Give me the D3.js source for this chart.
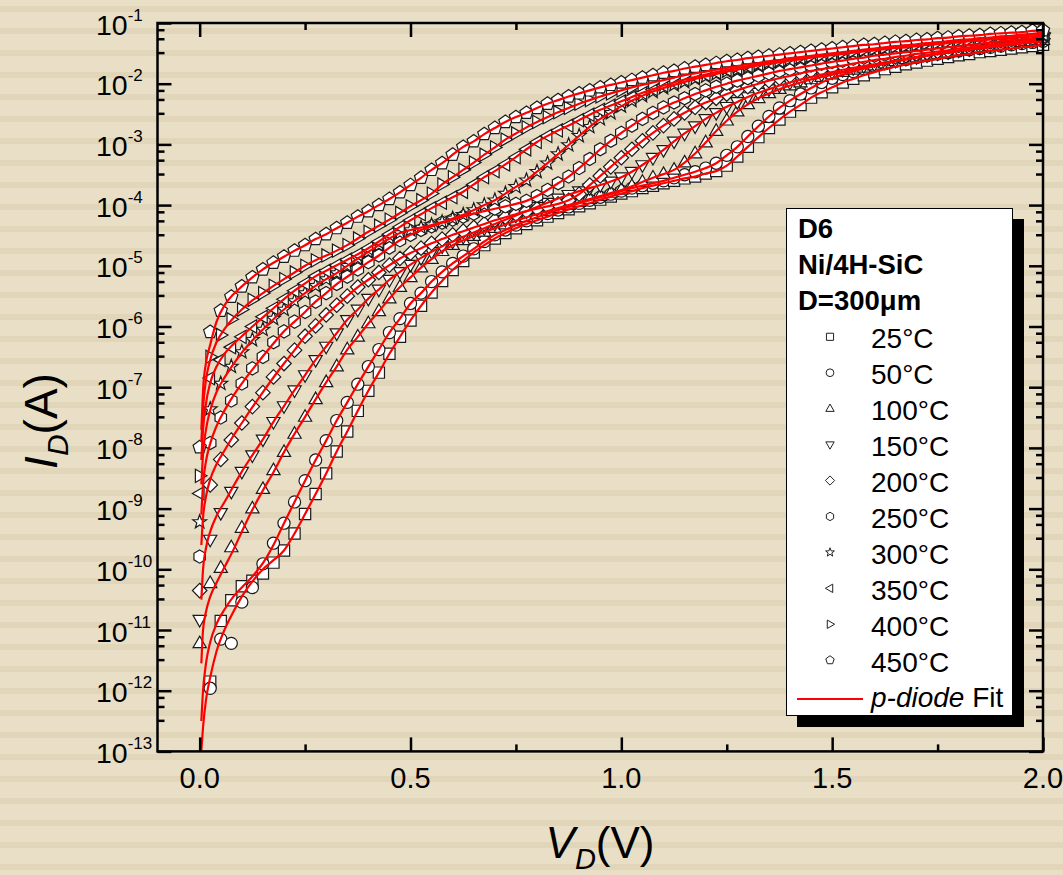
<!DOCTYPE html>
<html>
<head>
<meta charset="utf-8">
<script src="https://cdn.jsdelivr.net/npm/d3@7"></script>
<style>
  body { margin: 0; background: #e9dfc7; }
  svg { display: block; font-family: "Liberation Sans", Arial, sans-serif; }
</style>
</head>
<body>
<svg id="chart" width="1063" height="875"></svg>
<script>
// Forward I-V characteristics of a Ni/4H-SiC Schottky diode (D6, D = 300 um)
// measured from 25 to 450 degC. Currents are stored as log10(I / A).

const voltage = [
  0, 0.025, 0.05, 0.075, 0.1, 0.125, 0.15, 0.175, 0.2, 0.225,
  0.25, 0.275, 0.3, 0.325, 0.35, 0.375, 0.4, 0.425, 0.45, 0.475,
  0.5, 0.525, 0.55, 0.575, 0.6, 0.625, 0.65, 0.675, 0.7, 0.725,
  0.75, 0.775, 0.8, 0.825, 0.85, 0.875, 0.9, 0.925, 0.95, 0.975,
  1.0, 1.025, 1.05, 1.075, 1.1, 1.125, 1.15, 1.175, 1.2, 1.225,
  1.25, 1.275, 1.3, 1.325, 1.35, 1.375, 1.4, 1.425, 1.45, 1.475,
  1.5, 1.525, 1.55, 1.575, 1.6, 1.625, 1.65, 1.675, 1.7, 1.725,
  1.75, 1.775, 1.8, 1.825, 1.85, 1.875, 1.9, 1.925, 1.95, 1.975,
  2.0
];

const temperatures = ["25°C", "50°C", "100°C", "150°C", "200°C", "250°C", "300°C", "350°C", "400°C", "450°C"];
const markerShapes = ["square", "circle", "up", "down", "diamond", "hexagon", "star", "left", "right", "pentagon"];

const logI25 = [
  null, -11.85, -10.85, -10.51, -10.28, -10.19, -10.07, -9.89, -9.69, -9.41,
  -9.09, -8.76, -8.42, -8.06, -7.73, -7.39, -7.06, -6.76, -6.45, -6.17,
  -5.90, -5.66, -5.44, -5.25, -5.07, -4.92, -4.78, -4.66, -4.55, -4.46,
  -4.38, -4.31, -4.25, -4.19, -4.13, -4.07, -4.02, -3.97, -3.91, -3.86,
  -3.81, -3.77, -3.72, -3.68, -3.64, -3.60, -3.56, -3.53, -3.48, -3.44,
  -3.35, -3.20, -3.04, -2.88, -2.73, -2.59, -2.46, -2.35, -2.23, -2.14,
  -2.06, -1.98, -1.92, -1.86, -1.81, -1.76, -1.72, -1.68, -1.65, -1.62,
  -1.59, -1.56, -1.53, -1.51, -1.48, -1.46, -1.44, -1.42, -1.40, -1.38,
  -1.36
];
const logI50 = [
  null, -11.96, -11.15, -11.22, -10.54, -10.30, -9.91, -9.57, -9.24, -8.89,
  -8.54, -8.20, -7.88, -7.55, -7.25, -6.95, -6.66, -6.38, -6.10, -5.87,
  -5.62, -5.45, -5.26, -5.10, -4.96, -4.84, -4.72, -4.60, -4.49, -4.41,
  -4.33, -4.26, -4.20, -4.14, -4.08, -4.03, -3.97, -3.92, -3.87, -3.82,
  -3.77, -3.72, -3.68, -3.64, -3.60, -3.55, -3.50, -3.45, -3.39, -3.31,
  -3.18, -3.04, -2.87, -2.70, -2.54, -2.40, -2.28, -2.17, -2.07, -1.98,
  -1.91, -1.85, -1.80, -1.75, -1.71, -1.67, -1.63, -1.60, -1.57, -1.54,
  -1.51, -1.49, -1.46, -1.44, -1.42, -1.40, -1.38, -1.36, -1.34, -1.32,
  -1.30
];
const logI100 = [
  -11.22, -10.23, -9.98, -9.64, -9.32, -9.00, -8.68, -8.37, -8.07, -7.77,
  -7.49, -7.20, -6.92, -6.66, -6.38, -6.17, -5.95, -5.75, -5.54, -5.35,
  -5.19, -5.03, -4.89, -4.76, -4.66, -4.58, -4.51, -4.44, -4.38, -4.32,
  -4.26, -4.20, -4.15, -4.10, -4.05, -4.00, -3.95, -3.90, -3.85, -3.80,
  -3.75, -3.69, -3.62, -3.55, -3.49, -3.42, -3.30, -3.15, -2.97, -2.78,
  -2.61, -2.46, -2.34, -2.24, -2.16, -2.09, -2.03, -1.98, -1.93, -1.89,
  -1.85, -1.81, -1.77, -1.74, -1.70, -1.67, -1.63, -1.60, -1.57, -1.54,
  -1.51, -1.49, -1.46, -1.43, -1.41, -1.38, -1.36, -1.34, -1.32, -1.30,
  -1.28
];
const logI150 = [
  -10.83, -9.51, -9.07, -8.72, -8.39, -8.12, -7.86, -7.57, -7.31, -7.05,
  -6.80, -6.55, -6.33, -6.11, -5.89, -5.72, -5.54, -5.39, -5.23, -5.10,
  -4.98, -4.87, -4.77, -4.68, -4.60, -4.52, -4.45, -4.38, -4.31, -4.24,
  -4.17, -4.10, -4.03, -3.96, -3.89, -3.83, -3.77, -3.72, -3.67, -3.61,
  -3.54, -3.45, -3.34, -3.22, -3.09, -2.95, -2.82, -2.70, -2.58, -2.48,
  -2.38, -2.30, -2.22, -2.15, -2.09, -2.03, -1.98, -1.93, -1.89, -1.85,
  -1.81, -1.77, -1.74, -1.71, -1.68, -1.65, -1.62, -1.59, -1.56, -1.53,
  -1.50, -1.48, -1.45, -1.43, -1.40, -1.38, -1.36, -1.33, -1.31, -1.29,
  -1.27
];
const logI200 = [
  -10.35, -8.61, -8.19, -7.87, -7.59, -7.32, -7.09, -6.83, -6.61, -6.39,
  -6.16, -5.99, -5.81, -5.65, -5.50, -5.35, -5.23, -5.11, -4.99, -4.88,
  -4.79, -4.71, -4.63, -4.56, -4.49, -4.43, -4.37, -4.31, -4.25, -4.20,
  -4.15, -4.10, -4.06, -4.02, -3.98, -3.92, -3.82, -3.67, -3.52, -3.37,
  -3.22, -3.08, -2.94, -2.81, -2.69, -2.58, -2.48, -2.39, -2.31, -2.24,
  -2.17, -2.11, -2.05, -2.00, -1.95, -1.91, -1.87, -1.83, -1.79, -1.76,
  -1.73, -1.70, -1.67, -1.64, -1.61, -1.59, -1.56, -1.54, -1.51, -1.49,
  -1.47, -1.45, -1.42, -1.40, -1.38, -1.36, -1.34, -1.32, -1.30, -1.28,
  -1.26
];
const logI250 = [
  -9.79, -7.92, -7.50, -7.22, -6.94, -6.69, -6.50, -6.26, -6.08, -5.92,
  -5.76, -5.59, -5.45, -5.30, -5.18, -5.06, -4.94, -4.83, -4.70, -4.58,
  -4.49, -4.41, -4.35, -4.29, -4.24, -4.19, -4.14, -4.10, -4.06, -4.02,
  -3.98, -3.93, -3.85, -3.75, -3.64, -3.53, -3.39, -3.24, -3.08, -2.94,
  -2.81, -2.69, -2.58, -2.48, -2.39, -2.31, -2.24, -2.17, -2.11, -2.05,
  -2.00, -1.95, -1.91, -1.87, -1.83, -1.79, -1.76, -1.73, -1.70, -1.67,
  -1.64, -1.62, -1.59, -1.57, -1.54, -1.52, -1.50, -1.48, -1.46, -1.44,
  -1.42, -1.40, -1.38, -1.36, -1.34, -1.32, -1.30, -1.28, -1.27, -1.25,
  -1.23
];
const logI300 = [
  -9.22, -7.36, -6.94, -6.66, -6.42, -6.22, -6.05, -5.87, -5.72, -5.58,
  -5.45, -5.33, -5.22, -5.12, -5.00, -4.88, -4.77, -4.66, -4.55, -4.46,
  -4.41, -4.37, -4.33, -4.28, -4.22, -4.16, -4.08, -4.00, -3.92, -3.81,
  -3.70, -3.59, -3.45, -3.31, -3.16, -3.01, -2.86, -2.71, -2.58, -2.48,
  -2.37, -2.28, -2.20, -2.13, -2.07, -2.02, -1.97, -1.92, -1.88, -1.84,
  -1.80, -1.77, -1.73, -1.70, -1.67, -1.65, -1.62, -1.60, -1.57, -1.55,
  -1.53, -1.51, -1.49, -1.47, -1.45, -1.43, -1.41, -1.40, -1.38, -1.36,
  -1.35, -1.33, -1.32, -1.30, -1.29, -1.27, -1.26, -1.25, -1.23, -1.22,
  -1.21
];
const logI350 = [
  -8.75, -6.85, -6.55, -6.34, -6.17, -6.00, -5.84, -5.70, -5.55, -5.41,
  -5.29, -5.17, -5.08, -4.99, -4.90, -4.81, -4.71, -4.60, -4.48, -4.36,
  -4.25, -4.15, -4.05, -3.96, -3.87, -3.78, -3.66, -3.54, -3.44, -3.33,
  -3.21, -3.08, -2.96, -2.86, -2.77, -2.69, -2.60, -2.51, -2.43, -2.36,
  -2.29, -2.22, -2.15, -2.09, -2.03, -1.98, -1.93, -1.89, -1.85, -1.81,
  -1.77, -1.74, -1.71, -1.68, -1.65, -1.62, -1.60, -1.57, -1.55, -1.53,
  -1.51, -1.49, -1.47, -1.45, -1.43, -1.41, -1.39, -1.37, -1.36, -1.34,
  -1.32, -1.31, -1.29, -1.28, -1.26, -1.25, -1.23, -1.22, -1.20, -1.19,
  -1.18
];
const logI400 = [
  -8.46, -6.50, -6.14, -5.88, -5.72, -5.56, -5.45, -5.33, -5.22, -5.11,
  -5.00, -4.91, -4.83, -4.75, -4.66, -4.55, -4.44, -4.34, -4.24, -4.13,
  -4.02, -3.92, -3.81, -3.66, -3.54, -3.42, -3.30, -3.17, -3.05, -2.92,
  -2.82, -2.72, -2.63, -2.55, -2.47, -2.40, -2.33, -2.27, -2.21, -2.16,
  -2.11, -2.06, -2.02, -1.98, -1.94, -1.90, -1.86, -1.83, -1.80, -1.77,
  -1.74, -1.71, -1.68, -1.66, -1.63, -1.61, -1.58, -1.56, -1.54, -1.52,
  -1.50, -1.48, -1.46, -1.44, -1.42, -1.40, -1.38, -1.37, -1.35, -1.33,
  -1.32, -1.30, -1.28, -1.27, -1.25, -1.24, -1.22, -1.21, -1.19, -1.18,
  -1.16
];
const logI450 = [
  -7.99, -6.09, -5.74, -5.51, -5.34, -5.19, -5.06, -4.95, -4.85, -4.75,
  -4.66, -4.56, -4.48, -4.38, -4.29, -4.19, -4.10, -4.00, -3.90, -3.79,
  -3.67, -3.55, -3.42, -3.31, -3.17, -3.04, -2.95, -2.83, -2.73, -2.63,
  -2.55, -2.48, -2.40, -2.33, -2.27, -2.21, -2.16, -2.11, -2.06, -2.02,
  -1.98, -1.94, -1.90, -1.86, -1.82, -1.79, -1.75, -1.72, -1.69, -1.66,
  -1.63, -1.61, -1.58, -1.56, -1.54, -1.52, -1.50, -1.48, -1.46, -1.44,
  -1.42, -1.40, -1.38, -1.36, -1.35, -1.33, -1.31, -1.30, -1.28, -1.27,
  -1.25, -1.24, -1.22, -1.21, -1.20, -1.18, -1.17, -1.16, -1.15, -1.13,
  -1.12
];

// p-diode fit: low-bias branch (log10 I at fitVoltage); above 0.2 V the fit
// follows the measured points.
const fitVoltage = [0.004, 0.008, 0.015, 0.025, 0.04, 0.06, 0.08, 0.1, 0.125, 0.15, 0.175];
const fitLow25  = [-12.98, -12.60, -12.15, -11.78, -11.35, -10.98, -10.70, -10.45, -10.20, -10.00, -9.85];
const fitLow50  = [-12.50, -12.00, -11.55, -11.20, -10.90, -10.65, -10.45, -10.30, -10.12, -9.90, -9.60];
const fitLow100 = [-11.55, -11.00, -10.70, -10.45, -10.22, -9.95, -9.68, -9.38, -9.02, -8.70, -8.40];
const fitLow150 = [-10.50, -10.00, -9.65, -9.38, -9.12, -8.88, -8.63, -8.39, -8.12, -7.86, -7.57];
const fitLow200 = [-9.60, -9.15, -8.80, -8.52, -8.27, -8.03, -7.80, -7.59, -7.33, -7.08, -6.84];
const fitLow250 = [-9.10, -8.60, -8.22, -7.93, -7.64, -7.37, -7.14, -6.94, -6.71, -6.49, -6.28];
const fitLow300 = [-8.60, -8.10, -7.70, -7.38, -7.08, -6.83, -6.62, -6.43, -6.23, -6.05, -5.88];
const fitLow350 = [-8.20, -7.70, -7.27, -6.93, -6.66, -6.44, -6.29, -6.16, -6.00, -5.85, -5.70];
const fitLow400 = [-7.90, -7.35, -6.88, -6.55, -6.26, -6.03, -5.86, -5.72, -5.57, -5.45, -5.33];
const fitLow450 = [-7.70, -7.05, -6.60, -6.30, -5.92, -5.64, -5.47, -5.34, -5.19, -5.06, -4.95];

const xMajorTicks = [0, 0.5, 1.0, 1.5, 2.0];
const xMinorTicks = [0.25, 0.75, 1.25, 1.75];
const yExponents = [-13, -12, -11, -10, -9, -8, -7, -6, -5, -4, -3, -2, -1];
const yMinorMantissas = [3.25, 5.5, 7.75];
const legendHeader = ["D6", "Ni/4H-SiC", "D=300\u03BCm"];

const series = temperatures.map((label, k) => ({
  label,
  shape: markerShapes[k],
  values: [logI25, logI50, logI100, logI150, logI200, logI250, logI300, logI350, logI400, logI450][k],
  fitLow: [fitLow25, fitLow50, fitLow100, fitLow150, fitLow200, fitLow250, fitLow300, fitLow350, fitLow400, fitLow450][k]
}));

// ---------- layout ----------
const W = 1063, H = 875;
const plot = { left: 157.5, right: 1043, top: 23, bottom: 751.4 };

const svg = d3.select("#chart");

// striped page background
const bg = svg.append("g");
bg.append("rect").attr("width", W).attr("height", H).attr("fill", "#e9dfc7");
bg.selectAll("rect.stripe").data(d3.range(0, H, 22)).join("rect")
  .attr("class", "stripe").attr("x", 0).attr("y", d => d + 6)
  .attr("width", W).attr("height", 6).attr("fill", "#e1d6ba");

const x = d3.scaleLinear().domain([-0.1, 2.0]).range([plot.left, plot.right]);
const y = d3.scaleLog().domain([1e-13, 1e-1]).range([plot.bottom, plot.top]);

svg.append("defs").append("clipPath").attr("id", "plotClip")
  .append("rect").attr("x", plot.left).attr("y", plot.top)
  .attr("width", plot.right - plot.left).attr("height", plot.bottom - plot.top);

// ---------- marker shapes ----------
function shapePath(type, r) {
  const p = d3.path();
  const poly = pts => { pts.forEach((q, i) => i ? p.lineTo(q[0], q[1]) : p.moveTo(q[0], q[1])); p.closePath(); };
  const reg = (n, rad, rot) => d3.range(n).map(i => {
    const a = rot + i * 2 * Math.PI / n;
    return [rad * Math.cos(a), rad * Math.sin(a)];
  });
  switch (type) {
    case "square": { const s = r * 0.85; poly([[-s, -s], [s, -s], [s, s], [-s, s]]); break; }
    case "circle": p.moveTo(r * 0.92, 0); p.arc(0, 0, r * 0.92, 0, 2 * Math.PI); break;
    case "up": poly([[0, -r * 1.1], [r, r * 0.65], [-r, r * 0.65]]); break;
    case "down": poly([[0, r * 1.1], [r, -r * 0.65], [-r, -r * 0.65]]); break;
    case "left": poly([[-r * 1.1, 0], [r * 0.65, -r], [r * 0.65, r]]); break;
    case "right": poly([[r * 1.1, 0], [-r * 0.65, -r], [-r * 0.65, r]]); break;
    case "diamond": poly([[0, -r * 1.1], [r * 1.1, 0], [0, r * 1.1], [-r * 1.1, 0]]); break;
    case "hexagon": poly(reg(6, r, -Math.PI / 2)); break;
    case "pentagon": poly(reg(5, r * 1.05, -Math.PI / 2)); break;
    case "star": {
      const pts = d3.range(10).map(i => {
        const a = -Math.PI / 2 + i * Math.PI / 5, rad = i % 2 ? r * 0.45 : r * 1.1;
        return [rad * Math.cos(a), rad * Math.sin(a)];
      });
      poly(pts); break;
    }
  }
  return p.toString();
}

// ---------- data markers ----------
const markers = svg.append("g");
series.forEach(s => {
  const pts = voltage.map((v, i) => [v, s.values[i]]).filter(d => d[1] !== null);
  markers.append("g").selectAll("path").data(pts).join("path")
    .attr("d", shapePath(s.shape, 6.6))
    .attr("transform", d => `translate(${x(d[0])},${y(Math.pow(10, d[1]))})`)
    .attr("fill", "#ffffff").attr("stroke", "#1a1a1a").attr("stroke-width", 1.2);
});

// ---------- fit curves ----------
const line = d3.line()
  .x(d => x(d[0])).y(d => y(Math.pow(10, d[1])))
  .curve(d3.curveMonotoneX);
const fits = svg.append("g").attr("clip-path", "url(#plotClip)");
series.forEach(s => {
  const pts = fitVoltage.map((v, j) => [v, s.fitLow[j]])
    .concat(voltage.map((v, i) => [v, s.values[i]]).filter(d => d[0] >= 0.2 && d[1] !== null));
  fits.append("path").attr("d", line(pts))
    .attr("fill", "none").attr("stroke", "#ff0000").attr("stroke-width", 2.2);
});

// ---------- axes (inward ticks on all four sides) ----------
const tickStyle = g => {
  g.select(".domain").remove();
  g.selectAll("line").attr("stroke", "#000").attr("stroke-width", 2.5);
};
const yMinor = [];
yExponents.slice(0, -1).forEach(e => yMinorMantissas.forEach(m => yMinor.push(m * Math.pow(10, e))));
const yMajor = yExponents.map(e => Math.pow(10, e));

const axes = svg.append("g");
axes.append("g").attr("transform", `translate(0,${plot.bottom})`)
  .call(d3.axisBottom(x).tickValues(xMajorTicks).tickSize(-14).tickFormat("")).call(tickStyle);
axes.append("g").attr("transform", `translate(0,${plot.bottom})`)
  .call(d3.axisBottom(x).tickValues(xMinorTicks).tickSize(-7).tickFormat("")).call(tickStyle);
axes.append("g").attr("transform", `translate(0,${plot.top})`)
  .call(d3.axisTop(x).tickValues(xMajorTicks).tickSize(-14).tickFormat("")).call(tickStyle);
axes.append("g").attr("transform", `translate(0,${plot.top})`)
  .call(d3.axisTop(x).tickValues(xMinorTicks).tickSize(-7).tickFormat("")).call(tickStyle);
axes.append("g").attr("transform", `translate(${plot.left},0)`)
  .call(d3.axisLeft(y).tickValues(yMajor).tickSize(-14).tickFormat("")).call(tickStyle);
axes.append("g").attr("transform", `translate(${plot.left},0)`)
  .call(d3.axisLeft(y).tickValues(yMinor).tickSize(-7).tickFormat("")).call(tickStyle);
axes.append("g").attr("transform", `translate(${plot.right},0)`)
  .call(d3.axisRight(y).tickValues(yMajor).tickSize(-14).tickFormat("")).call(tickStyle);
axes.append("g").attr("transform", `translate(${plot.right},0)`)
  .call(d3.axisRight(y).tickValues(yMinor).tickSize(-7).tickFormat("")).call(tickStyle);

axes.append("rect")
  .attr("x", plot.left).attr("y", plot.top)
  .attr("width", plot.right - plot.left).attr("height", plot.bottom - plot.top)
  .attr("fill", "none").attr("stroke", "#000").attr("stroke-width", 2.5);

// x tick labels
axes.append("g").selectAll("text").data(xMajorTicks).join("text")
  .attr("x", d => x(d)).attr("y", 788)
  .attr("text-anchor", "middle").attr("font-size", 29).attr("fill", "#000")
  .text(d => d.toFixed(1));

// y tick labels: 10^n
const yl = axes.append("g").selectAll("text").data(yExponents).join("text")
  .attr("x", 96).attr("y", d => y(Math.pow(10, d)) + 11.5)
  .attr("font-size", 28.5).attr("fill", "#000");
yl.append("tspan").text("10");
yl.append("tspan").attr("font-size", 17).attr("dy", -14).text(d => "-" + Math.abs(d));

// axis titles
const xt = svg.append("text").attr("x", 600).attr("y", 858)
  .attr("text-anchor", "middle").attr("font-size", 44).attr("fill", "#000");
xt.append("tspan").attr("font-style", "italic").text("V");
xt.append("tspan").attr("font-style", "italic").attr("font-size", 29).attr("dy", 11).text("D");
xt.append("tspan").attr("dy", -11).text("(V)");

const ytl = svg.append("text").attr("transform", "translate(57,421) rotate(-90)")
  .attr("text-anchor", "middle").attr("font-size", 46).attr("fill", "#000");
ytl.append("tspan").attr("font-style", "italic").text("I");
ytl.append("tspan").attr("font-style", "italic").attr("font-size", 30).attr("dy", 11).text("D");
ytl.append("tspan").attr("dy", -11).text("(A)");

// ---------- legend ----------
const lg = svg.append("g");
lg.append("rect").attr("x", 797).attr("y", 219).attr("width", 227).attr("height", 508).attr("fill", "#000");
lg.append("rect").attr("x", 786.5).attr("y", 208.5).attr("width", 226).attr("height", 507)
  .attr("fill", "#fff").attr("stroke", "#000").attr("stroke-width", 1);

lg.selectAll("text.hdr").data(legendHeader).join("text").attr("class", "hdr")
  .attr("x", 798).attr("y", (d, i) => 237.5 + i * 36.3)
  .attr("font-size", 27.5).attr("font-weight", "bold").attr("fill", "#000").text(d => d);

const rowY = i => 348.3 + i * 35.93;
series.forEach((s, i) => {
  lg.append("path").attr("d", shapePath(s.shape, 4.2))
    .attr("transform", `translate(830,${rowY(i) - 11.5})`)
    .attr("fill", "#fff").attr("stroke", "#222").attr("stroke-width", 1);
  lg.append("text").attr("x", 871).attr("y", rowY(i))
    .attr("font-size", 28).attr("fill", "#000").text(s.label);
});
lg.append("line").attr("x1", 797).attr("x2", 863).attr("y1", 699).attr("y2", 699)
  .attr("stroke", "#ff0000").attr("stroke-width", 2);
const ft = lg.append("text").attr("x", 871).attr("y", 706.7).attr("font-size", 28).attr("fill", "#000");
ft.append("tspan").attr("font-style", "italic").text("p-diode");
ft.append("tspan").text(" Fit");
</script>
</body>
</html>
